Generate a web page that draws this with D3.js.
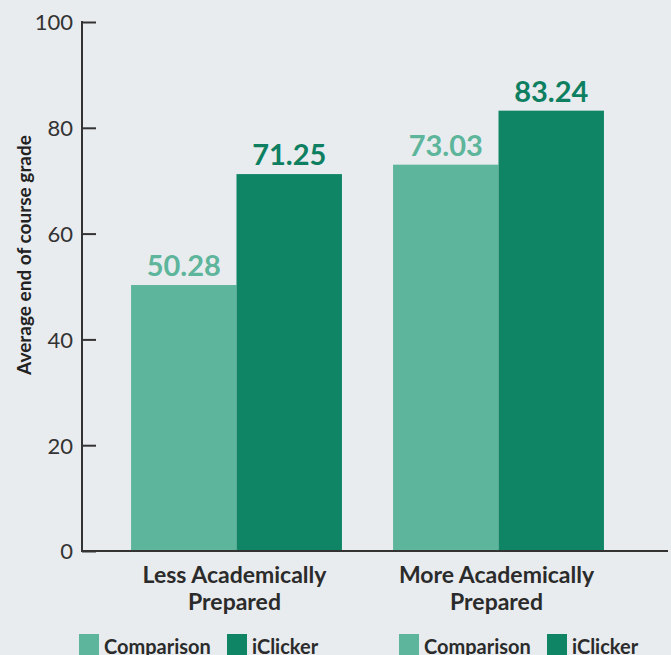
<!DOCTYPE html>
<html>
<head>
<meta charset="utf-8">
<script src="https://cdn.jsdelivr.net/npm/d3@7"></script>
<style>
  html, body { margin: 0; padding: 0; background: #e9ecef; }
  svg { display: block; }
  text { font-family: Lato, "Open Sans", sans-serif; }
</style>
</head>
<body>
<svg id="chart" width="671" height="655"></svg>
<script>
const categories = ["Less Academically Prepared", "More Academically Prepared"];
const categoryLines = [["Less Academically", "Prepared"], ["More Academically", "Prepared"]];
const seriesNames = ["Comparison", "iClicker"];
const comparisonValues = [50.28, 73.03];
const iclickerValues = [71.25, 83.24];
const yTicks = [0, 20, 40, 60, 80, 100];
const yTitle = "Average end of course grade";

const colors = { "Comparison": "#5db59b", "iClicker": "#0f8566" };
const labelColors = { "Comparison": "#5db59b", "iClicker": "#0e7f61" };

const svg = d3.select("#chart");
svg.append("rect").attr("width", 671).attr("height", 655).attr("fill", "#e9ecef");

const axisX = 82, axisRight = 668;
const y = d3.scaleLinear().domain([0, 100]).range([551, 22]);
const x0 = d3.scaleBand().domain(categories).range([105.5, 629.5])
  .paddingInner(0.195).paddingOuter(0.0975);
const x1 = d3.scaleBand().domain(seriesNames).range([0, x0.bandwidth()]).padding(0);
const legendX = d3.scaleBand().domain(categories).range([79, 719]);

const data = categories.map((c, i) => ({
  category: c,
  values: [
    { series: "Comparison", value: comparisonValues[i] },
    { series: "iClicker", value: iclickerValues[i] }
  ]
}));

// bars
const groups = svg.append("g").selectAll("g").data(data).join("g")
  .attr("transform", d => `translate(${x0(d.category)},0)`);
groups.selectAll("rect").data(d => d.values).join("rect")
  .attr("x", d => x1(d.series))
  .attr("width", x1.bandwidth())
  .attr("y", d => y(d.value))
  .attr("height", d => y(0) - y(d.value))
  .attr("fill", d => colors[d.series]);

// value labels
groups.selectAll("text.val").data(d => d.values).join("text")
  .attr("class", "val")
  .attr("x", d => x1(d.series) + x1.bandwidth() / 2)
  .attr("y", d => y(d.value) - 9)
  .attr("text-anchor", "middle")
  .attr("font-size", 29)
  .attr("font-weight", 700)
  .attr("fill", d => labelColors[d.series])
  .text(d => d.value.toFixed(2));

// y axis
const yAxis = d3.axisRight(y).tickValues(yTicks).tickSize(14).tickFormat(d3.format("d"));
const yg = svg.append("g").attr("transform", `translate(${axisX},0)`).call(yAxis);
yg.select(".domain").remove();
yg.selectAll(".tick line").attr("stroke", "#333").attr("stroke-width", 2);
yg.selectAll(".tick text")
  .attr("x", -9).attr("text-anchor", "end").attr("dy", "0.36em")
  .attr("font-size", 22).attr("fill", "#333").attr("font-family", "Lato, sans-serif");
svg.append("line").attr("x1", axisX).attr("x2", axisX).attr("y1", y(100) - 1).attr("y2", y(0) + 1)
  .attr("stroke", "#333").attr("stroke-width", 2);
// x axis line
svg.append("line").attr("x1", axisX - 1).attr("x2", axisRight).attr("y1", y(0)).attr("y2", y(0))
  .attr("stroke", "#333").attr("stroke-width", 2);

// y title
svg.append("text")
  .attr("transform", `translate(31,255) rotate(-90)`)
  .attr("text-anchor", "middle")
  .attr("font-size", 19).attr("font-weight", 700).attr("fill", "#222")
  .text(yTitle);

// category labels
categories.forEach((c, i) => {
  const cx = x0(c) + x0.bandwidth() / 2 - 2;
  const t = svg.append("text").attr("text-anchor", "middle")
    .attr("font-size", 23).attr("font-weight", 700).attr("fill", "#2b2b2b");
  categoryLines[i].forEach((ln, j) => {
    t.append("tspan").attr("x", cx).attr("y", 583 + j * 27).text(ln);
  });
});

// legends (one under each group)
categories.forEach((c, i) => {
  const start = legendX(c);
  const lg = svg.append("g").attr("transform", `translate(${start},634)`);
  const offsets = [0, 148];
  seriesNames.forEach((s, k) => {
    lg.append("rect").attr("x", offsets[k]).attr("y", 0).attr("width", 20).attr("height", 22)
      .attr("fill", colors[s]);
    lg.append("text").attr("x", offsets[k] + 25).attr("y", 20)
      .attr("font-size", 20).attr("font-weight", 700).attr("fill", "#2b2b2b").text(s);
  });
});
</script>
</body>
</html>
